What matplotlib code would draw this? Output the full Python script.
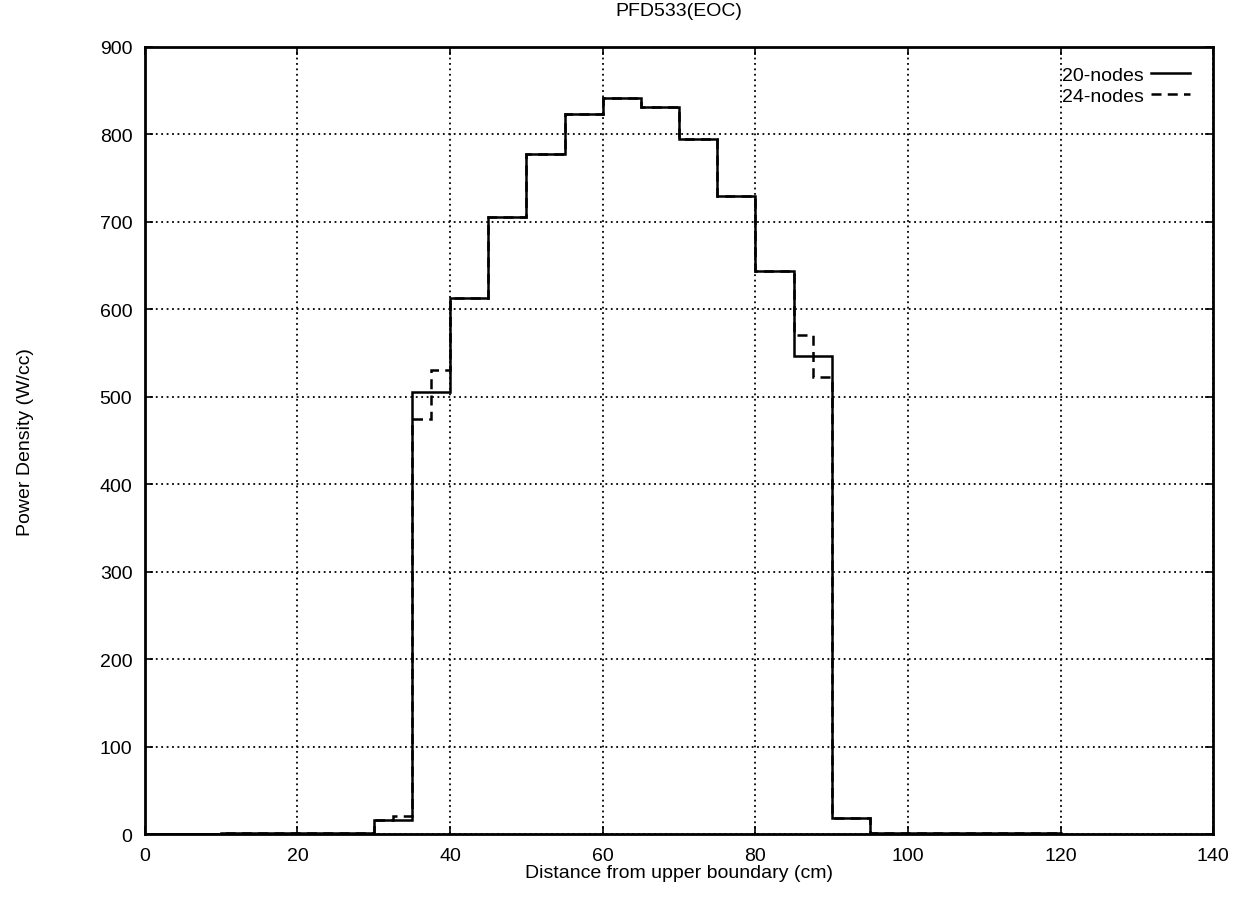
import matplotlib.pyplot as plt

# 20-node solution: bin edges (cm) and power density (W/cc)
edges_20 = [0, 10, 20, 30, 35, 40, 45, 50, 55, 60, 65, 70, 75, 80, 85, 90, 95, 120]
power_20 = [0, 1, 2, 16, 505, 613, 706, 777, 823, 842, 831, 795, 730, 644, 547, 19, 1]

# 24-node solution: finer bins near the fuel edges
edges_24 = [0, 10, 20, 30, 32.5, 35, 37.5, 40, 45, 50, 55, 60, 65, 70, 75, 80, 85, 87.5, 90, 95, 120]
power_24 = [0, 1, 2, 16, 21, 475, 531, 613, 706, 777, 823, 842, 831, 795, 730, 644, 571, 523, 19, 1]

plt.rcParams['font.family'] = ['Liberation Sans', 'DejaVu Sans']

fig = plt.figure(figsize=(12.38, 9.03), dpi=100)
ax = fig.add_axes([0.117, 0.075, 0.863, 0.872])

ax.stairs(power_20, edges_20, color='black', linewidth=1.8, label='20-nodes')
ax.stairs(power_24, edges_24, color='black', linewidth=1.8, linestyle=(0, (4, 2.5)), label='24-nodes')

ax.set_xlim(0, 140)
ax.set_ylim(0, 900)
ax.set_xticks(range(0, 141, 20))
ax.set_yticks(range(0, 901, 100))
ax.grid(True, color='black', linestyle=(0, (1, 2)), linewidth=1.3)
ax.tick_params(labelsize=14, direction='in', length=6, width=1.2, top=True, right=True)
ax.tick_params(axis='x', pad=9)
ax.tick_params(axis='y', pad=9)
for s in ax.spines.values():
    s.set_linewidth(2.0)

ax.set_title('PFD533(EOC)', fontsize=14, pad=23)
ax.set_xlabel('Distance from upper boundary (cm)', fontsize=14, labelpad=0)
ax.set_ylabel('Power Density (W/cc)', fontsize=14, labelpad=47)

leg = ax.legend(loc='upper right', bbox_to_anchor=(0.978, 0.975), fontsize=14,
                frameon=False, markerfirst=False, handlelength=2.0,
                handletextpad=0.35, labelspacing=0.15, borderpad=0,
                borderaxespad=0)

fig.savefig('out.png', dpi=100)
